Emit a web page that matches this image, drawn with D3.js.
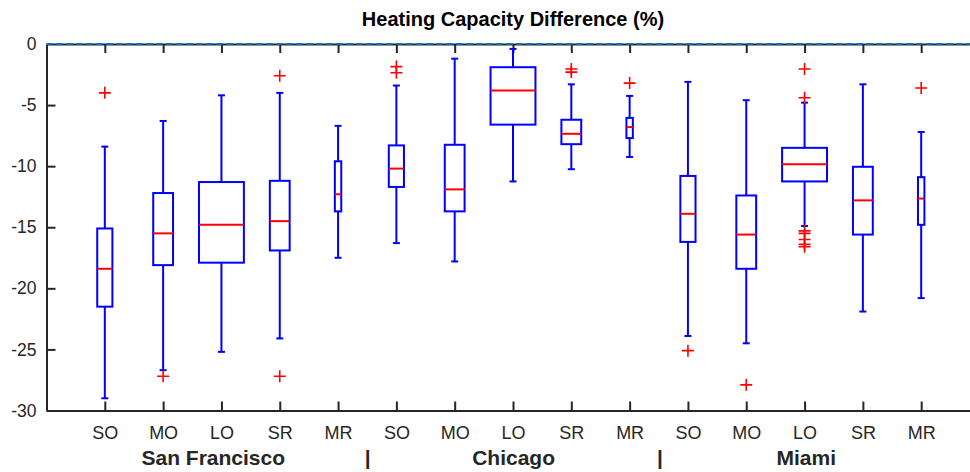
<!DOCTYPE html>
<html>
<head>
<meta charset="utf-8">
<script src="https://cdn.jsdelivr.net/npm/d3@7"></script>
<style>
  body { margin: 0; background: #fff; }
  svg { display: block; font-family: "Liberation Sans", Arial, Helvetica, sans-serif; }
</style>
</head>
<body>
<svg id="chart" width="970" height="472"></svg>
<script>
// categories per city, 5 boxes each
const cities = ["San Francisco", "Chicago", "Miami"];
const types = ["SO", "MO", "LO", "SR", "MR"];
const tickLabels = cities.flatMap(() => types);
const yTicks = [0, -5, -10, -15, -20, -25, -30];

// box stats (%)
const whiskerHigh = [-8.4, -6.3, -4.2, -4.0, -6.7, -3.4, -1.2, -0.4, -3.3, -4.25, -3.1, -4.6, -4.8, -3.3, -7.2];
const q3 = [-15.1, -12.2, -11.3, -11.2, -9.6, -8.3, -8.25, -1.9, -6.2, -6.05, -10.8, -12.4, -8.5, -10.05, -10.9];
const median = [-18.4, -15.5, -14.8, -14.5, -12.3, -10.2, -11.9, -3.8, -7.35, -6.8, -13.9, -15.6, -9.85, -12.8, -12.65];
const q1 = [-21.5, -18.1, -17.9, -16.9, -13.7, -11.7, -13.7, -6.6, -8.2, -7.7, -16.2, -18.4, -11.25, -15.6, -14.8];
const whiskerLow = [-29.0, -26.7, -25.2, -24.1, -17.5, -16.3, -17.8, -11.25, -10.25, -9.25, -23.9, -24.5, -14.9, -21.9, -20.8];
const outliers = [
  [-4.0], [-27.2], [], [-2.6, -27.2], [],
  [-1.85, -2.35], [], [], [-2.05, -2.3], [-3.2],
  [-25.1], [-27.9], [-2.05, -4.4, -15.3, -15.5, -16.0, -16.4, -16.6], [], [-3.6]
];
// box widths (x units), same pattern in each city
const boxWidth = [0.26, 0.34, 0.77, 0.34, 0.11];

const svg = d3.select("#chart");
const x = d3.scaleLinear().domain([0, 16]).range([46.5, 979.5]);
const y = d3.scaleLinear().domain([-30, 0]).range([410.5, 44]);
const axisColor = "#262626";
const capHalf = 3.5;

const data = tickLabels.map((label, i) => ({
  pos: i + 1,
  label: label,
  hi: whiskerHigh[i],
  q3: q3[i],
  med: median[i],
  q1: q1[i],
  lo: whiskerLow[i],
  out: outliers[i],
  w: boxWidth[i % 5],
}));

// title
svg.append("text")
  .attr("x", x(8))
  .attr("y", 26)
  .attr("text-anchor", "middle")
  .style("font-size", "20px")
  .style("font-weight", "bold")
  .style("fill", "#000")
  .text("Heating Capacity Difference (%)");

// axes
const gx = svg.append("g")
  .attr("transform", `translate(0,${y(-30)})`)
  .call(d3.axisBottom(x).tickValues(d3.range(1, 16)).tickFormat((d) => tickLabels[d - 1])
    .tickSizeInner(-9).tickSizeOuter(0).tickPadding(16));

const gTop = svg.append("g")
  .attr("transform", `translate(0,${y(0)})`)
  .call(d3.axisTop(x).tickValues(d3.range(1, 16)).tickFormat("")
    .tickSizeInner(-9).tickSizeOuter(0));

const gy = svg.append("g")
  .attr("transform", `translate(${x(0)},0)`)
  .call(d3.axisLeft(y).tickValues(yTicks).tickFormat((d) => String(d))
    .tickSizeInner(-9).tickSizeOuter(0).tickPadding(10));

[gx, gTop, gy].forEach((g) => {
  g.selectAll(".domain").attr("stroke", axisColor).attr("stroke-width", 2);
  g.selectAll(".tick line").attr("stroke", axisColor).attr("stroke-width", 2);
  g.selectAll(".tick text")
    .style("font-family", '"Liberation Sans", Arial, sans-serif')
    .attr("fill", axisColor);
});
gx.selectAll(".tick text").style("font-size", "18px");
gy.selectAll(".tick text").style("font-size", "17.5px");
gy.selectAll(".tick").filter((d) => d === 0).select("line").remove();

// dashed zero line on top
svg.append("line")
  .attr("x1", x(0))
  .attr("x2", x(16))
  .attr("y1", y(0))
  .attr("y2", y(0))
  .attr("stroke", "#0072BD")
  .attr("stroke-width", 2)
  .attr("stroke-dasharray", "6,4");

// boxes
const boxes = svg.append("g").selectAll("g.box").data(data).enter().append("g").attr("class", "box");

boxes.append("line")
  .attr("x1", (d) => x(d.pos)).attr("x2", (d) => x(d.pos))
  .attr("y1", (d) => y(d.hi)).attr("y2", (d) => y(d.q3))
  .attr("stroke", "#0000FF").attr("stroke-width", 2);
boxes.append("line")
  .attr("x1", (d) => x(d.pos)).attr("x2", (d) => x(d.pos))
  .attr("y1", (d) => y(d.q1)).attr("y2", (d) => y(d.lo))
  .attr("stroke", "#0000FF").attr("stroke-width", 2);
boxes.append("line")
  .attr("x1", (d) => x(d.pos) - capHalf).attr("x2", (d) => x(d.pos) + capHalf)
  .attr("y1", (d) => y(d.hi)).attr("y2", (d) => y(d.hi))
  .attr("stroke", "#0000FF").attr("stroke-width", 2);
boxes.append("line")
  .attr("x1", (d) => x(d.pos) - capHalf).attr("x2", (d) => x(d.pos) + capHalf)
  .attr("y1", (d) => y(d.lo)).attr("y2", (d) => y(d.lo))
  .attr("stroke", "#0000FF").attr("stroke-width", 2);
boxes.append("rect")
  .attr("x", (d) => x(d.pos - d.w / 2))
  .attr("width", (d) => x(d.w) - x(0))
  .attr("y", (d) => y(d.q3))
  .attr("height", (d) => y(d.q1) - y(d.q3))
  .attr("fill", "none")
  .attr("stroke", "#0000FF").attr("stroke-width", 2);
boxes.append("line")
  .attr("x1", (d) => x(d.pos - d.w / 2)).attr("x2", (d) => x(d.pos + d.w / 2))
  .attr("y1", (d) => y(d.med)).attr("y2", (d) => y(d.med))
  .attr("stroke", "#FF0000").attr("stroke-width", 2);

// outliers as red +
const outs = boxes.selectAll("g.out")
  .data((d) => d.out.map((v) => ({ pos: d.pos, v: v })))
  .enter().append("g").attr("class", "out")
  .attr("transform", (o) => `translate(${x(o.pos)},${y(o.v)})`);
outs.append("path")
  .attr("d", "M-6,0H6M0,-6V6")
  .attr("stroke", "#FF0000")
  .attr("stroke-width", 1.6)
  .attr("fill", "none");

// city labels with separators
const cityPos = [2.86, 8.01, 13.03];
const sepPos = [5.51, 10.52];
svg.append("g").selectAll("text").data(cities).enter().append("text")
  .attr("x", (d, i) => x(cityPos[i]))
  .attr("y", 465)
  .attr("text-anchor", "middle")
  .style("font-size", "21px")
  .style("font-weight", "bold")
  .attr("fill", axisColor)
  .text((d) => d);
svg.append("g").selectAll("text").data(sepPos).enter().append("text")
  .attr("x", (d) => x(d))
  .attr("y", 465)
  .attr("text-anchor", "middle")
  .style("font-size", "21px")
  .style("font-weight", "bold")
  .attr("fill", axisColor)
  .text("|");
</script>
</body>
</html>
